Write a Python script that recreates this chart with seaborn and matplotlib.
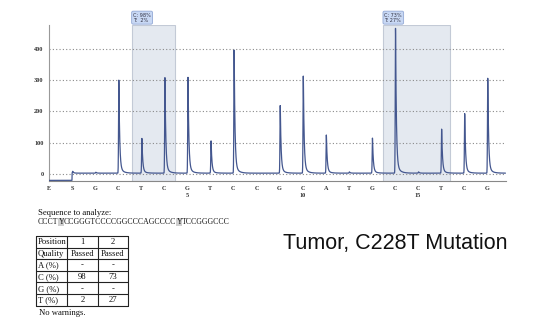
import numpy as np
import pandas as pd
import seaborn as sns
import matplotlib
matplotlib.use("Agg")
import matplotlib.pyplot as plt

# ---------------- data ----------------
dispensation = ["E", "S", "G", "C", "T", "C", "G", "T", "C", "C",
                "G", "C", "A", "T", "G", "C", "C", "T", "C", "G"]
peak_heights = [0, 6, 3, 300, 112, 308, 309, 104, 397, 0,
                218, 313, 123, 4, 113, 467, 4, 142, 192, 306]
number_labels = {6: "5", 11: "10", 16: "15"}
yticks = [0, 100, 200, 300, 400]
shade_ranges = [(3.6, 5.45), (14.5, 17.4)]
shade_labels = ["C: 98%\nT:  2%", "C: 73%\nT: 27%"]

seq_parts = ["CCCT", "Y", "CCGGGTCCCCGGCCCAGCCCC", "Y", "TCCGGGCCC"]
table_rows = [["Position", "1", "2"],
              ["Quality", "Passed", "Passed"],
              ["A (%)", "-", "-"],
              ["C (%)", "98", "73"],
              ["G (%)", "-", "-"],
              ["T (%)", "2", "27"]]
title_text = "Tumor, C228T Mutation"

# ---------------- trace built from peak heights ----------------
x = np.arange(0, 19.8, 0.004)
y = np.where(x < 1, -20.0, 3.0)
for i, h in enumerate(peak_heights):
    p = i + 0.03
    d = x - p
    up = np.exp(-(d / 0.018) ** 2)
    dd = np.clip(d, 0, None)
    down = 0.93 * np.exp(-dd / 0.035) + 0.07 * np.exp(-dd / 0.14)
    y = y + h * np.where(d < 0, up, down)
trace = pd.DataFrame({"pos": x, "signal": y})

# ---------------- figure ----------------
sns.set_theme(style="white")
plt.rcParams["font.family"] = ["Liberation Serif", "DejaVu Serif"]
W, H = 538, 323
fig = plt.figure(figsize=(W / 100, H / 100), dpi=100)
fig.patch.set_facecolor("white")

ax = fig.add_axes([49 / W, 1 - 181 / H, (506 - 49) / W, (181 - 25) / H])
ax.set_facecolor("white")
ax.set_xlim(0, 19.82)
ax.set_ylim(-22, 475)

for (a, b), lab in zip(shade_ranges, shade_labels):
    ax.axvspan(a, b, color="#e4e9f0", ec="#c3cad6", lw=0.8, zorder=0)
    ax.text(a + 0.05, 1.015, lab, transform=ax.get_xaxis_transform(),
            fontsize=3.6, family="DejaVu Sans", color="#334", va="bottom", ha="left",
            linespacing=1.0, clip_on=False,
            bbox=dict(boxstyle="round,pad=0.3", fc="#c8d8f4", ec="#93a9d6", lw=0.6))

for t in yticks:
    ax.axhline(t, color="#8a8a8a", lw=0.8, ls=(0, (1, 2)), zorder=1)

sns.lineplot(data=trace, x="pos", y="signal", ax=ax, color="#44578f", lw=0.9,
             zorder=3, estimator=None, sort=False)

ax.set_yticks(yticks)
ax.set_yticklabels([str(t) for t in yticks], fontsize=4.5, fontweight="bold", color="#333")
ax.set_xticks(range(len(dispensation)))
ax.set_xticklabels([d + ("\n" + number_labels[i] if i in number_labels else "")
                    for i, d in enumerate(dispensation)],
                   fontsize=4.5, fontweight="bold", color="#333", linespacing=1.5, va="top")
ax.tick_params(axis="y", length=0, pad=4)
ax.tick_params(axis="x", length=1.5, width=0.6, pad=2, color="#666", direction="out")
ax.set_xlabel("")
ax.set_ylabel("")
for s in ["top", "right"]:
    ax.spines[s].set_visible(False)
ax.spines["left"].set_color("#999999")
ax.spines["left"].set_linewidth(0.8)
ax.spines["bottom"].set_color("#888888")
ax.spines["bottom"].set_linewidth(0.8)

# ---------------- lower text area (pixel coordinates) ----------------
ov = fig.add_axes([0, 0, 1, 1])
ov.set_xlim(0, W)
ov.set_ylim(H, 0)
ov.axis("off")
ov.patch.set_alpha(0)

fs = 6.2
ov.text(38, 215, "Sequence to analyze:", fontsize=fs, va="baseline", ha="left", color="#111")
sfs = 5.6
prev = ov.text(38, 224, seq_parts[0], fontsize=sfs, va="baseline", ha="left", color="#111")
for k, part in enumerate(seq_parts[1:], start=1):
    kw = {}
    if part == "Y":
        kw["bbox"] = dict(boxstyle="square,pad=0.02", fc="#cfcfcf", ec="none")
    prev = ov.annotate(part, xy=(1, 0), xycoords=prev, xytext=(0, 0),
                       textcoords="offset points", fontsize=sfs, va="bottom", ha="left",
                       color="#111", **kw)

col_edges = [36, 67, 98, 128]
row_top, row_h = 236, 11.6
for r, row in enumerate(table_rows):
    for c, val in enumerate(row):
        x0, x1 = col_edges[c], col_edges[c + 1]
        yc = row_top + (r + 0.5) * row_h
        if c == 0:
            ov.text(x0 + 2, yc + 0.5, val, fontsize=fs, va="center", ha="left", color="#111")
        else:
            ov.text((x0 + x1) / 2, yc + 0.5, val, fontsize=fs, va="center", ha="center", color="#111")
n_rows = len(table_rows)
for r in range(n_rows + 1):
    ov.plot([col_edges[0], col_edges[-1]], [row_top + r * row_h] * 2, color="#222", lw=0.8)
for cx in col_edges:
    ov.plot([cx, cx], [row_top, row_top + n_rows * row_h], color="#222", lw=0.8)

ov.text(39, 313, "No warnings.", fontsize=fs, va="center", ha="left", color="#111")

ov.text(283, 243, title_text, fontsize=15.5, family="Liberation Sans",
        va="center", ha="left", color="#111")

fig.savefig("out.png", dpi=100, facecolor="white")
